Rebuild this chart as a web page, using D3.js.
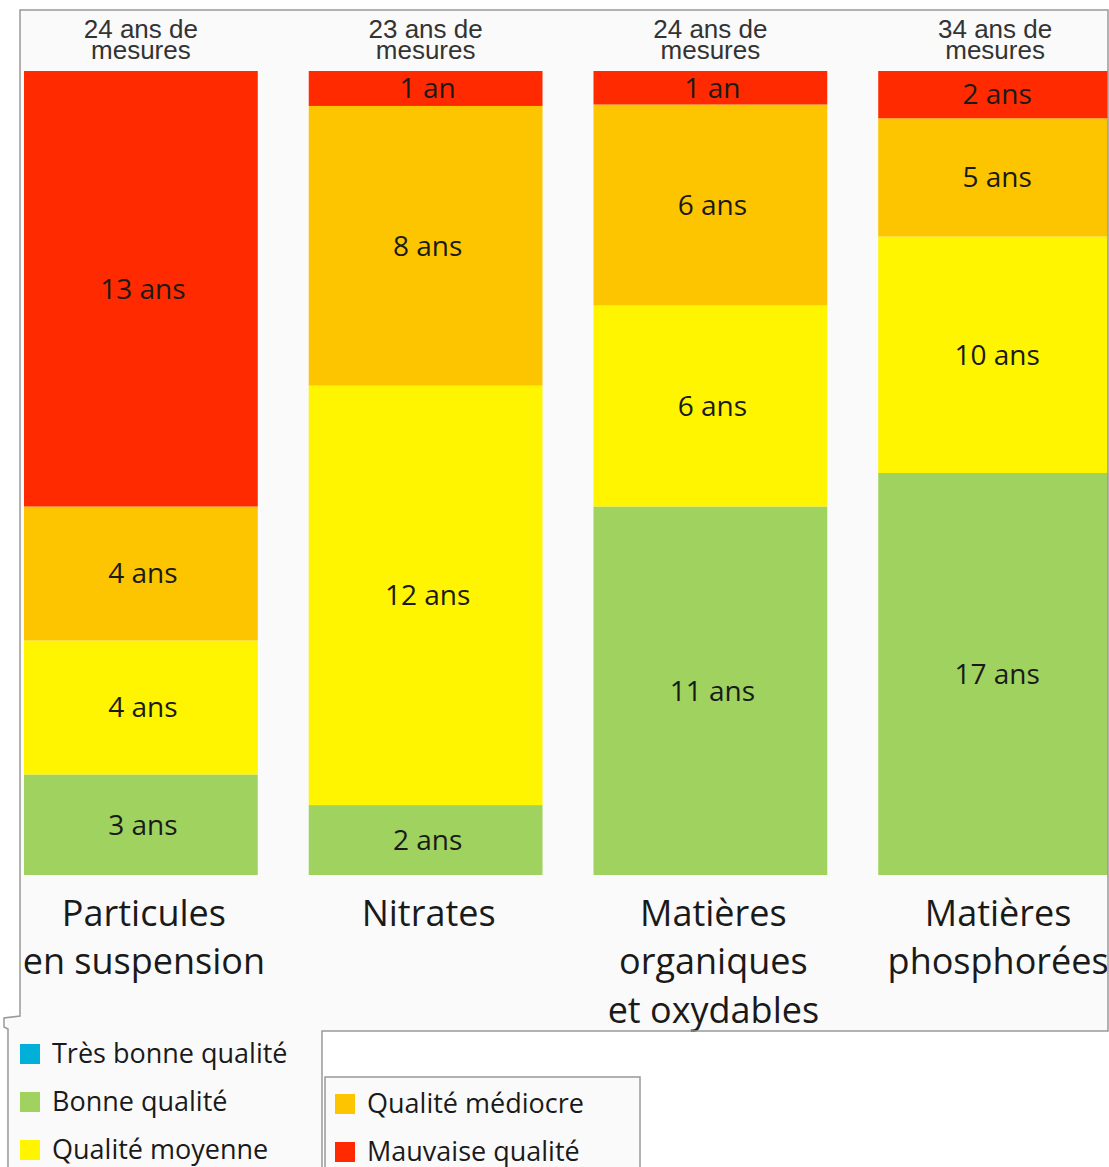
<!DOCTYPE html>
<html>
<head>
<meta charset="utf-8">
<script src="https://cdn.jsdelivr.net/npm/d3@7"></script>
<style>
  body { margin: 0; background: #fff; }
  svg { display: block; }
</style>
</head>
<body>
<script>
var svgWidth = 1109;
var svgHeight = 1167;

// Data
var categories = [["Particules", "en suspension"], ["Nitrates"], ["Matières", "organiques", "et oxydables"], ["Matières", "phosphorées"]];
var totalYears = [24, 23, 24, 34];
var qualities = ["Très bonne qualité", "Bonne qualité", "Qualité moyenne", "Qualité médiocre", "Mauvaise qualité"];
var colors = ["#00b0d8", "#a0d25f", "#fff500", "#fdc500", "#ff2a00"];
var tresBonne = [0, 0, 0, 0];
var bonne = [3, 2, 11, 17];
var moyenne = [4, 12, 6, 10];
var mediocre = [4, 8, 6, 5];
var mauvaise = [13, 1, 1, 2];

var seriesValues = [tresBonne, bonne, moyenne, mediocre, mauvaise];
var keys = qualities.map(function (q, i) { return "k" + i; });

var table = categories.map(function (c, j) {
  var row = { idx: j };
  seriesValues.forEach(function (s, i) { row["k" + i] = s[j]; });
  return row;
});

var svg = d3.select("body").append("svg")
  .attr("width", svgWidth)
  .attr("height", svgHeight);

// background panel areas
svg.append("rect").attr("x", 20).attr("y", 10).attr("width", 1088).attr("height", 1021).attr("fill", "#fafafa");
svg.append("rect").attr("x", 6).attr("y", 1016).attr("width", 316).attr("height", 151).attr("fill", "#fafafa");

var x = d3.scaleBand()
  .domain(d3.range(categories.length))
  .range([24, 1112])
  .paddingInner(0.179)
  .paddingOuter(0);

var y = d3.scaleLinear().domain([0, 1]).range([875, 71]);

var stack = d3.stack().keys(keys).offset(d3.stackOffsetExpand);
var stacked = stack(table);

var layer = svg.selectAll("g.layer")
  .data(stacked)
  .enter()
  .append("g")
  .attr("class", "layer")
  .attr("fill", function (d, i) { return colors[i]; });

layer.selectAll("rect")
  .data(function (d) { return d; })
  .enter()
  .append("rect")
  .attr("x", function (d) { return Math.max(22, x(d.data.idx)); })
  .attr("width", function (d) { return Math.min(x.bandwidth(), 1108 - x(d.data.idx)); })
  .attr("y", function (d) { return y(d[1]); })
  .attr("height", function (d) { return y(d[0]) - y(d[1]); });

// value labels
stacked.forEach(function (s, i) {
  s.forEach(function (d, j) {
    var v = seriesValues[i][j];
    if (!v) return;
    svg.append("text")
      .attr("x", x(j) + x.bandwidth() / 2 + 2)
      .attr("y", (y(d[0]) + y(d[1])) / 2)
      .attr("dy", "0.35em")
      .attr("text-anchor", "middle")
      .attr("font-family", "Open Sans")
      .attr("font-size", 28)
      .attr("fill", "#1a1a1a")
      .text(v == 1 ? "1 an" : v + " ans");
  });
});

// header labels
totalYears.forEach(function (t, j) {
  var g = svg.append("text")
    .attr("text-anchor", "middle")
    .attr("font-family", "Liberation Sans")
    .attr("font-size", 26)
    .attr("fill", "#333");
  g.append("tspan").attr("x", x(j) + x.bandwidth() / 2).attr("y", 38).text(t + " ans de");
  g.append("tspan").attr("x", x(j) + x.bandwidth() / 2).attr("y", 59).text("mesures");
});

// category labels
categories.forEach(function (c, j) {
  c.forEach(function (line, k) {
    svg.append("text")
      .attr("x", x(j) + x.bandwidth() / 2 + 3)
      .attr("y", 913 + k * 48.5)
      .attr("dy", "0.35em")
      .attr("text-anchor", "middle")
      .attr("font-family", "Open Sans")
      .attr("font-size", 36)
      .attr("fill", "#1a1a1a")
      .text(line);
  });
});

// frame
svg.append("path")
  .attr("d", "M322,1167 L322,1031 L1108,1031 L1108,10 L20,10 L20,1016 L4,1018 L4,1027 L8,1029 L8,1167")
  .attr("fill", "none")
  .attr("stroke", "#999")
  .attr("stroke-width", 1.5);

// second legend box
svg.append("rect")
  .attr("x", 325).attr("y", 1077).attr("width", 315).attr("height", 100)
  .attr("fill", "#fafafa")
  .attr("stroke", "#999")
  .attr("stroke-width", 1.5);

// legend
var legendPos = [[20, 1054], [20, 1102], [20, 1150], [335, 1104], [335, 1152]];
qualities.forEach(function (q, i) {
  var p = legendPos[i];
  svg.append("rect")
    .attr("x", p[0]).attr("y", p[1] - 10)
    .attr("width", 20).attr("height", 20)
    .attr("fill", colors[i]);
  svg.append("text")
    .attr("x", p[0] + 32)
    .attr("y", p[1])
    .attr("dy", "0.35em")
    .attr("font-family", "Open Sans")
    .attr("font-size", 27)
    .attr("fill", "#1a1a1a")
    .text(q);
});
</script>
</body>
</html>
